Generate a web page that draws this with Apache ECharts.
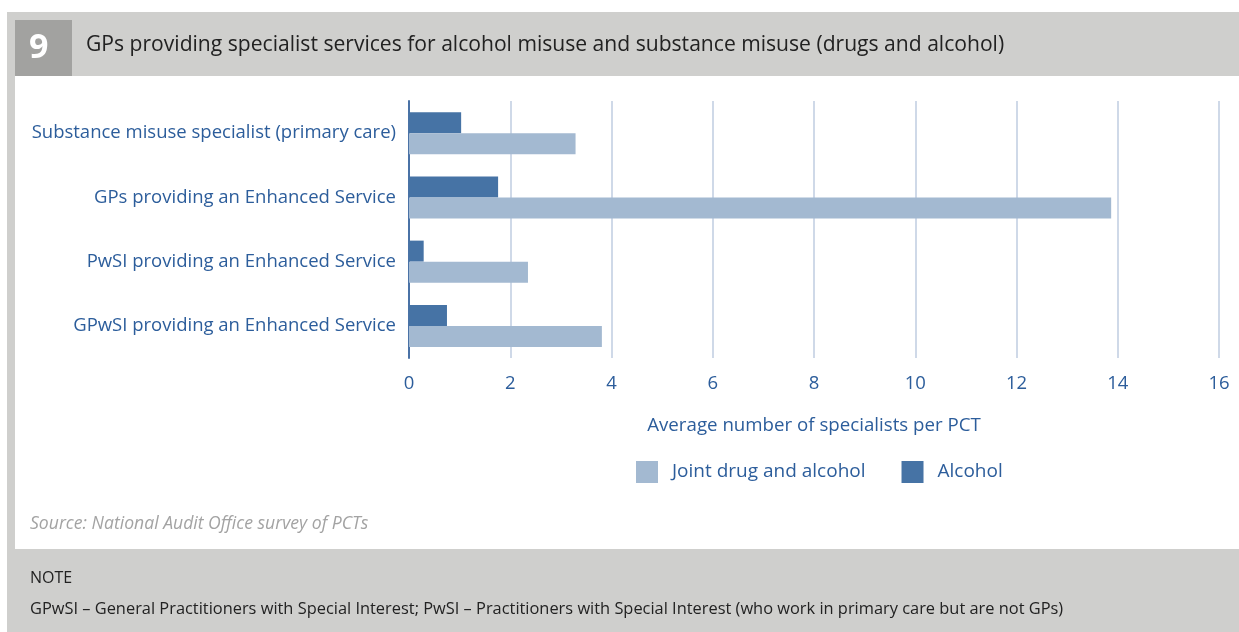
<!DOCTYPE html>
<html>
<head>
<meta charset="utf-8">
<script src="https://cdn.jsdelivr.net/npm/echarts@6/dist/echarts.min.js"></script>
<style>
html,body{margin:0;padding:0;background:#fff;}
#chart{width:1239px;height:632px;}
</style>
</head>
<body>
<div id="chart"></div>
<script>
const categories = [
  'Substance misuse specialist (primary care)',
  'GPs providing an Enhanced Service',
  'PwSI providing an Enhanced Service',
  'GPwSI providing an Enhanced Service'
];
const alcoholValues = [1.03, 1.76, 0.29, 0.75];
const jointValues = [3.29, 13.87, 2.35, 3.81];
const xTicks = [0, 2, 4, 6, 8, 10, 12, 14, 16];
const seriesNames = ['Joint drug and alcohol', 'Alcohol'];

const FONT = 'Open Sans';
const BLUE_TEXT = '#2c5d9b';
const chart = echarts.init(document.getElementById('chart'));
chart.setOption({
  animation: false,
  backgroundColor: '#ffffff',
  textStyle: { fontFamily: FONT },
  graphic: [
    { type: 'rect', z: -10, shape: { x: 7, y: 12, width: 1232, height: 620 }, style: { fill: '#cfcfcd' } },
    { type: 'rect', z: -9, shape: { x: 15, y: 76, width: 1224, height: 473 }, style: { fill: '#ffffff' } },
    { type: 'rect', z: -8, shape: { x: 15, y: 20, width: 57, height: 56 }, style: { fill: '#a2a2a0' } },
    { type: 'text', left: 29, top: 31, style: { text: '9', fill: '#ffffff', font: 'bold 34px ' + FONT } },
    { type: 'text', left: 86, top: 34, style: { text: 'GPs providing specialist services for alcohol misuse and substance misuse (drugs and alcohol)', fill: '#222222', font: '21.1px ' + FONT } },
    { type: 'text', left: 30, top: 515, style: { text: 'Source: National Audit Office survey of PCTs', fill: '#a3a3a3', font: 'italic 17.6px ' + FONT } },
    { type: 'text', left: 30, top: 570, style: { text: 'NOTE', fill: '#222222', font: '16px ' + FONT } },
    { type: 'text', left: 30, top: 601, style: { text: 'GPwSI – General Practitioners with Special Interest; PwSI – Practitioners with Special Interest (who work in primary care but are not GPs)', fill: '#222222', font: '16.4px ' + FONT } }
  ],
  legend: {
    data: seriesNames,
    left: 631, top: 456,
    itemWidth: 22, itemHeight: 22, itemGap: 36,
    icon: 'rect',
    textStyle: { color: BLUE_TEXT, fontSize: 19, fontFamily: FONT, padding: [0, 0, 0, 9] }
  },
  grid: { left: 409, right: 20, top: 101, height: 257 },
  xAxis: {
    type: 'value', min: 0, max: 16, interval: 2,
    axisLine: { show: false }, axisTick: { show: false },
    axisLabel: { color: BLUE_TEXT, fontSize: 18.5, margin: 16, fontFamily: FONT },
    splitLine: { show: true, lineStyle: { color: '#bfcde0', width: 1.5 } },
    name: 'Average number of specialists per PCT',
    nameLocation: 'middle', nameGap: 58,
    nameTextStyle: { color: BLUE_TEXT, fontSize: 18.7, fontFamily: FONT }
  },
  yAxis: {
    type: 'category', data: categories, inverse: true,
    axisLine: { show: true, lineStyle: { color: '#4a72a6', width: 2 } },
    axisTick: { show: false },
    axisLabel: { color: BLUE_TEXT, fontSize: 18.5, margin: 13, fontFamily: FONT }
  },
  series: [
    { name: 'Alcohol', type: 'bar', data: alcoholValues, barWidth: 21, barGap: '0%', itemStyle: { color: '#4673a5' } },
    { name: 'Joint drug and alcohol', type: 'bar', data: jointValues, barWidth: 21, barGap: '0%', itemStyle: { color: '#a3b9d1' } }
  ]
});
</script>
</body>
</html>
